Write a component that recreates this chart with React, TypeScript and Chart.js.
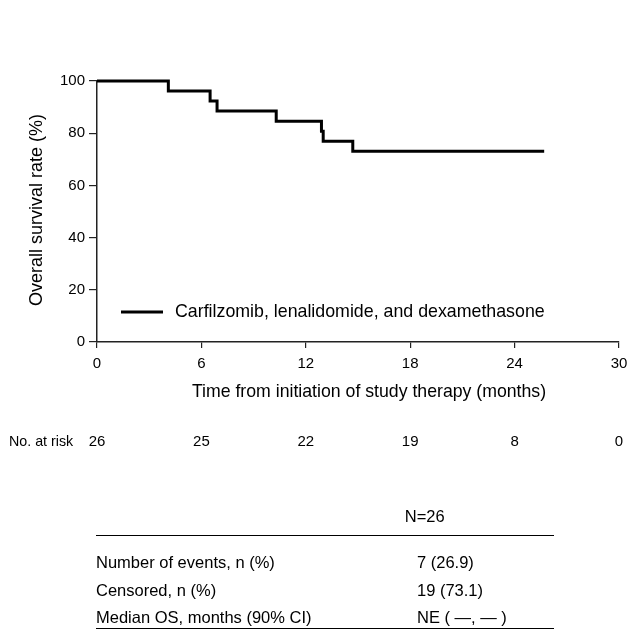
import React, { useEffect, useRef } from "react";
import { Chart, registerables } from "chart.js";

Chart.register(...registerables);

const eventTimes = [0, 4.1, 6.5, 6.9, 10.3, 12.9, 13.0, 14.7, 25.7];
const survival = [100, 96.15, 92.31, 88.46, 84.62, 80.77, 76.92, 73.08, 73.08];
const seriesLabel = "Carfilzomib, lenalidomide, and dexamethasone";
const xTicks = [0, 6, 12, 18, 24, 30];
const yTicks = [0, 20, 40, 60, 80, 100];
const atRisk = [26, 25, 22, 19, 8, 0];
const tableHeader = "N=26";
const tableLabels = ["Number of events, n (%)", "Censored, n (%)", "Median OS, months (90% CI)"];
const tableValues = ["7 (26.9)", "19 (73.1)", "NE ( \u2014, \u2014 )"];

const FONT = "'Liberation Sans', Arial, Helvetica, sans-serif";

function condensedText(ctx: CanvasRenderingContext2D, text: string, x: number, y: number, sx: number) {
  ctx.save();
  ctx.translate(x, y);
  ctx.scale(sx, 1);
  ctx.fillText(text, 0, 0);
  ctx.restore();
}

const extrasPlugin = {
  id: "extras",
  afterDraw(chart: any) {
    const ctx = chart.ctx as CanvasRenderingContext2D;
    const xs = chart.scales.x;
    ctx.save();
    ctx.fillStyle = "#000";
    ctx.strokeStyle = "#000";

    // X tick labels
    ctx.font = `15px ${FONT}`;
    ctx.textAlign = "center";
    ctx.textBaseline = "middle";
    xTicks.forEach((v) => {
      ctx.fillText(String(v), xs.getPixelForValue(v), 363.5);
    });

    // Y title
    ctx.save();
    ctx.translate(37, 210);
    ctx.rotate(-Math.PI / 2);
    ctx.font = `18px ${FONT}`;
    ctx.textAlign = "center";
    ctx.textBaseline = "middle";
    ctx.fillText("Overall survival rate (%)", 0, 0);
    ctx.restore();

    // X title
    ctx.font = `17.7px ${FONT}`;
    ctx.textAlign = "center";
    ctx.textBaseline = "middle";
    ctx.fillText("Time from initiation of study therapy (months)", 369, 392);

    // Legend
    ctx.lineWidth = 3;
    ctx.beginPath();
    ctx.moveTo(121, 312);
    ctx.lineTo(163, 312);
    ctx.stroke();
    ctx.font = `17.8px ${FONT}`;
    ctx.textAlign = "left";
    ctx.fillText(seriesLabel, 175, 312);

    // At risk row
    ctx.font = `15px ${FONT}`;
    ctx.textAlign = "left";
    condensedText(ctx, "No. at risk", 9, 442, 0.95);
    ctx.textAlign = "center";
    atRisk.forEach((n, i) => {
      ctx.fillText(String(n), xs.getPixelForValue(xTicks[i]), 442);
    });

    // Table
    ctx.font = `16.5px ${FONT}`;
    ctx.textAlign = "center";
    ctx.fillText(tableHeader, 424.7, 517);
    ctx.lineWidth = 1;
    ctx.beginPath();
    ctx.moveTo(96, 535.5);
    ctx.lineTo(554, 535.5);
    ctx.stroke();
    const rowY = [563, 591, 618];
    tableLabels.forEach((l, i) => {
      ctx.textAlign = "left";
      ctx.fillText(l, 96, rowY[i]);
      ctx.fillText(tableValues[i], 417, rowY[i]);
    });
    ctx.beginPath();
    ctx.moveTo(96, 628.5);
    ctx.lineTo(554, 628.5);
    ctx.stroke();

    ctx.restore();
  },
};

export default function App() {
  const ref = useRef<HTMLCanvasElement | null>(null);
  useEffect(() => {
    if (!ref.current) return;
    const chart = new Chart(ref.current, {
      type: "line",
      data: {
        datasets: [
          {
            label: seriesLabel,
            data: eventTimes.map((t, i) => ({ x: t, y: survival[i] })),
            borderColor: "#000",
            borderWidth: 3,
            stepped: "before",
            pointRadius: 0,
            fill: false,
            clip: false as any,
            borderCapStyle: "butt",
            borderJoinStyle: "miter",
          },
        ],
      },
      options: {
        animation: false,
        responsive: false,
        maintainAspectRatio: false,
        layout: { padding: { left: 0, right: 10, top: 81, bottom: 270 } },
        plugins: { legend: { display: false }, tooltip: { enabled: false } },
        scales: {
          x: {
            type: "linear",
            min: 0,
            max: 30,
            afterFit: (s: any) => {
              s.height = 30;
              s.paddingLeft = 0;
              s.paddingRight = 0;
            },
            afterBuildTicks: (s: any) => {
              s.ticks = xTicks.map((v) => ({ value: v }));
            },
            ticks: { display: false },
            grid: { drawOnChartArea: false, drawTicks: true, tickLength: 6, color: "#222", lineWidth: 1.2 },
            border: { color: "#222", width: 1.5 },
          },
          y: {
            type: "linear",
            min: 0,
            max: 100,
            afterFit: (s: any) => {
              s.width = 97;
            },
            afterBuildTicks: (s: any) => {
              s.ticks = yTicks.map((v) => ({ value: v }));
            },
            ticks: { color: "#000", font: { family: FONT, size: 15 }, padding: 4 },
            grid: { drawOnChartArea: false, drawTicks: true, tickLength: 8, color: "#222", lineWidth: 1.2 },
            border: { color: "#222", width: 1.5 },
          },
        },
      },
      plugins: [extrasPlugin],
    });
    return () => chart.destroy();
  }, []);
  return (
    <div style={{ position: "fixed", left: 0, top: 0, width: 629, height: 642, background: "#fff" }}>
      <canvas ref={ref} width={629} height={642} style={{ display: "block" }} />
    </div>
  );
}
